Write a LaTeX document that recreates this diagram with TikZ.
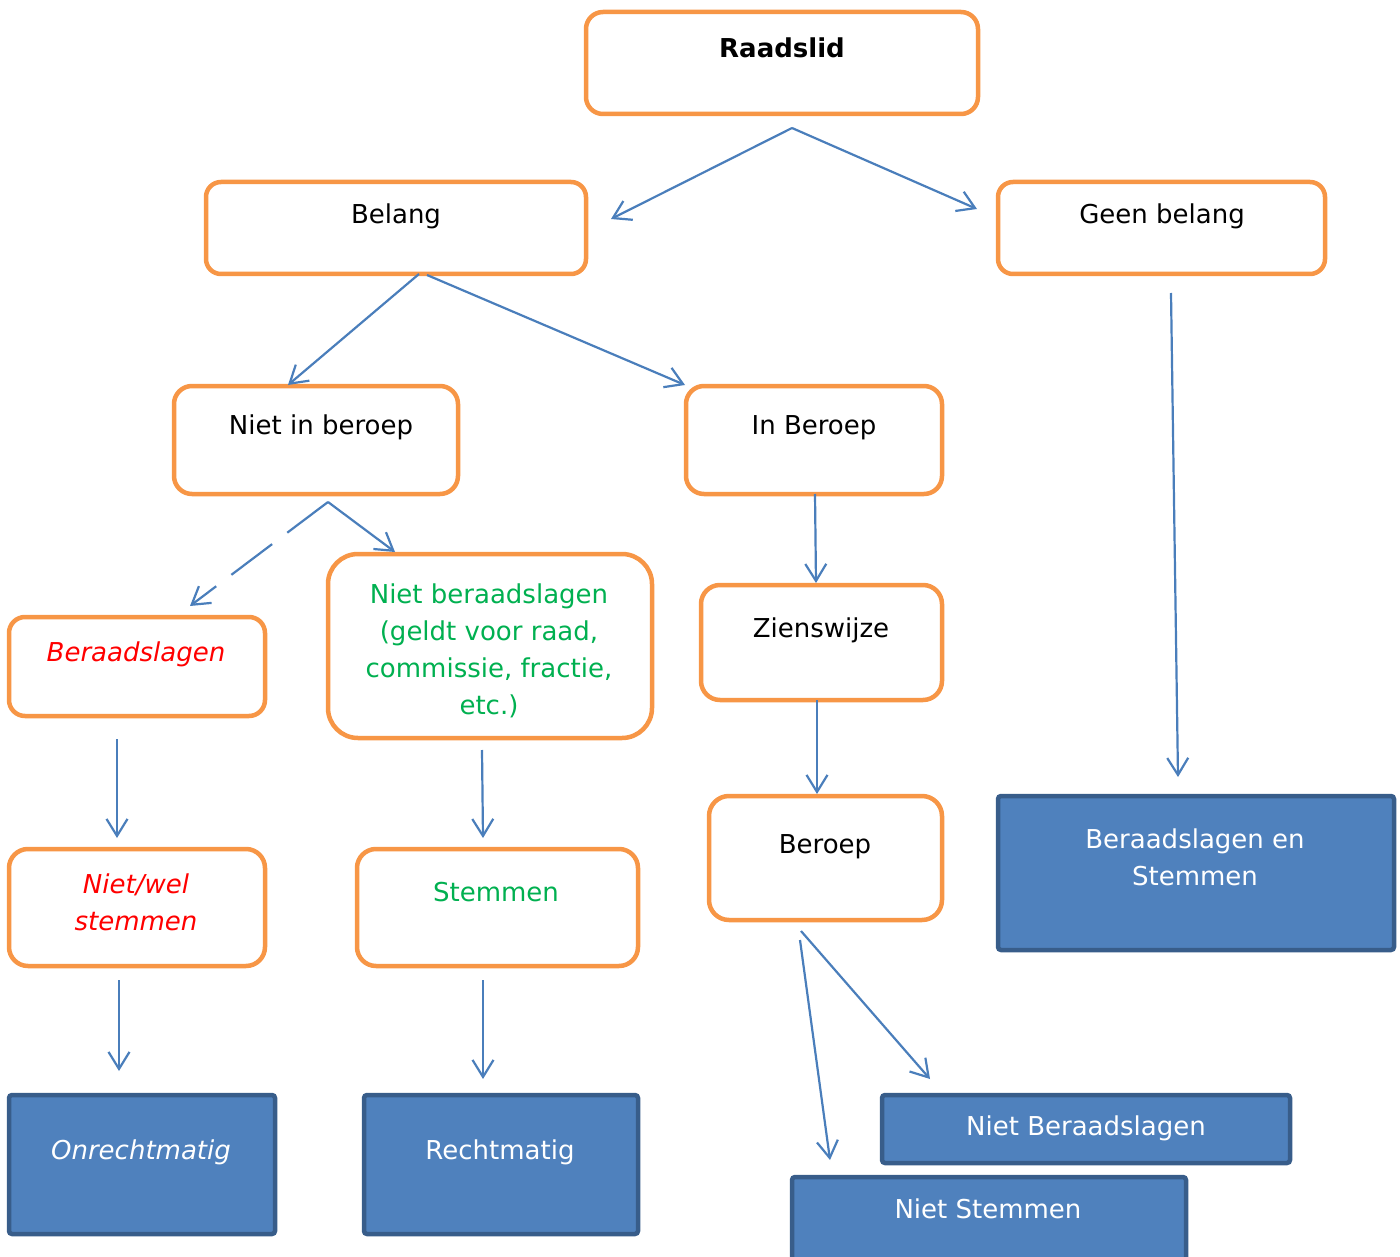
\documentclass[tikz,border=0pt]{standalone}
\usepackage{fontspec}
\setmainfont{DejaVu Sans}
\usetikzlibrary{arrows.meta}
\definecolor{obord}{HTML}{F79646}
\definecolor{bfill}{HTML}{4F81BD}
\definecolor{bbord}{HTML}{385D8A}
\definecolor{arr}{HTML}{4A7EBB}
\definecolor{grn}{HTML}{00B050}
\definecolor{rd}{HTML}{FF0000}
\tikzset{
  obox/.style={draw=obord, line width=4.5pt, fill=white, inner sep=0pt},
  bbox/.style={draw=bbord, line width=4.5pt, fill=bfill, rounded corners=3pt, inner sep=0pt},
  txt/.style={anchor=base, inner sep=0pt, font=\fontsize{26}{37}\selectfont, align=center},
  conn/.style={draw=arr, line width=2.2pt, -{Straight Barb[length=17pt,width=21pt,line width=2.2pt]}},
}
\begin{document}
\begin{tikzpicture}[x=1pt,y=-1pt]
\useasboundingbox (0,0) rectangle (1400,1257);
% orange boxes
\node[obox, rounded corners=17pt, minimum width=392pt, minimum height=102pt] (raad) at (782,63) {};
\node[obox, rounded corners=15pt, minimum width=380pt, minimum height=92pt] (belang) at (396,228) {};
\node[obox, rounded corners=15pt, minimum width=327pt, minimum height=92pt] (geen) at (1161.5,228) {};
\node[obox, rounded corners=18pt, minimum width=284pt, minimum height=108pt] (nib) at (316,440) {};
\node[obox, rounded corners=18pt, minimum width=256pt, minimum height=108pt] (ib) at (814,440) {};
\node[obox, rounded corners=16pt, minimum width=256pt, minimum height=99pt] (ber) at (137,666.5) {};
\node[obox, rounded corners=30pt, minimum width=324pt, minimum height=184pt] (nber) at (490,646) {};
\node[obox, rounded corners=19pt, minimum width=241pt, minimum height=115pt] (zien) at (821.5,642.5) {};
\node[obox, rounded corners=19pt, minimum width=256pt, minimum height=117pt] (nws) at (137,907.5) {};
\node[obox, rounded corners=19pt, minimum width=281pt, minimum height=117pt] (stem) at (497.5,907.5) {};
\node[obox, rounded corners=20pt, minimum width=233pt, minimum height=124pt] (beroep) at (825.5,858) {};
% blue boxes
\node[bbox, minimum width=396pt, minimum height=154pt] (bes) at (1196,873) {};
\node[bbox, minimum width=266pt, minimum height=139pt] (onr) at (142,1164.5) {};
\node[bbox, minimum width=274pt, minimum height=139pt] (rech) at (501,1164.5) {};
\node[bbox, minimum width=408pt, minimum height=68pt] (nbl) at (1086,1129) {};
\node[bbox, minimum width=394pt, minimum height=100pt] (nst) at (989,1227) {};
% texts (anchor=base: baseline of the last line)
\node[txt, font=\fontsize{26}{37}\selectfont\bfseries] (raad-t) at (782,58) {Raadslid};
\node[txt] (belang-t) at (396,224) {Belang};
\node[txt] (geen-t) at (1162,224) {Geen belang};
\node[txt] (nib-t) at (321,434) {Niet in beroep};
\node[txt] (ib-t) at (814,434) {In Beroep};
\node[txt, text=rd, font=\fontsize{26}{37}\selectfont\itshape] (ber-t) at (136,661) {Beraadslagen};
\node[txt, text=grn] (nber-t) at (489,714) {Niet beraadslagen\\(geldt voor raad,\\commissie, fractie,\\etc.)};
\node[txt] (zien-t) at (821,637) {Zienswijze};
\node[txt, text=rd, font=\fontsize{26}{37}\selectfont\itshape] (nws-t) at (136,930) {Niet/wel\\stemmen};
\node[txt, text=grn] (stem-t) at (496,901) {Stemmen};
\node[txt] (beroep-t) at (825,853) {Beroep};
\node[txt, text=white] (bes-t) at (1195,885) {Beraadslagen en\\Stemmen};
\node[txt, text=white, font=\fontsize{26}{37}\selectfont\itshape] (onr-t) at (141,1159) {Onrechtmatig};
\node[txt, text=white] (rech-t) at (500,1159) {Rechtmatig};
\node[txt, text=white] (nbl-t) at (1086,1135) {Niet Beraadslagen};
\node[txt, text=white] (nst-t) at (988,1218) {Niet Stemmen};
% connector end points
\coordinate (c1) at (792,128);
\coordinate (e1) at (611,219);
\coordinate (e2) at (977,209);
\coordinate (c2) at (419,274);
\coordinate (e3) at (288,385);
\coordinate (c3) at (427,275);
\coordinate (e4) at (685,385);
\coordinate (c4) at (1171,293);
\coordinate (e5) at (1178,777);
\coordinate (c5) at (328,502);
\coordinate (e6) at (190,606);
\coordinate (e7) at (395,552);
\coordinate (c6) at (815,494);
\coordinate (e8) at (816,583);
\coordinate (c7) at (817,700);
\coordinate (e9) at (817,794);
\coordinate (c8) at (117,739);
\coordinate (e10) at (117,838);
\coordinate (c9) at (482,750);
\coordinate (e11) at (483,838);
\coordinate (c10) at (119,980);
\coordinate (e12) at (119,1071);
\coordinate (c11) at (483,980);
\coordinate (e13) at (483,1079);
\coordinate (c12) at (800,940);
\coordinate (e14) at (830,1160);
\coordinate (c13) at (801,931);
\coordinate (e15) at (930,1079);
% connectors
\draw[conn] (c1) -- (e1);
\draw[conn] (c1) -- (e2);
\draw[conn] (c2) -- (e3);
\draw[conn] (c3) -- (e4);
\draw[conn] (c4) -- (e5);
\draw[conn, dash pattern=on 51pt off 19pt] (c5) -- (e6);
\draw[conn] (c5) -- (e7);
\draw[conn] (c6) -- (e8);
\draw[conn] (c7) -- (e9);
\draw[conn] (c8) -- (e10);
\draw[conn] (c9) -- (e11);
\draw[conn] (c10) -- (e12);
\draw[conn] (c11) -- (e13);
\draw[conn] (c12) -- (e14);
\draw[conn] (c13) -- (e15);
\end{tikzpicture}
\end{document}
